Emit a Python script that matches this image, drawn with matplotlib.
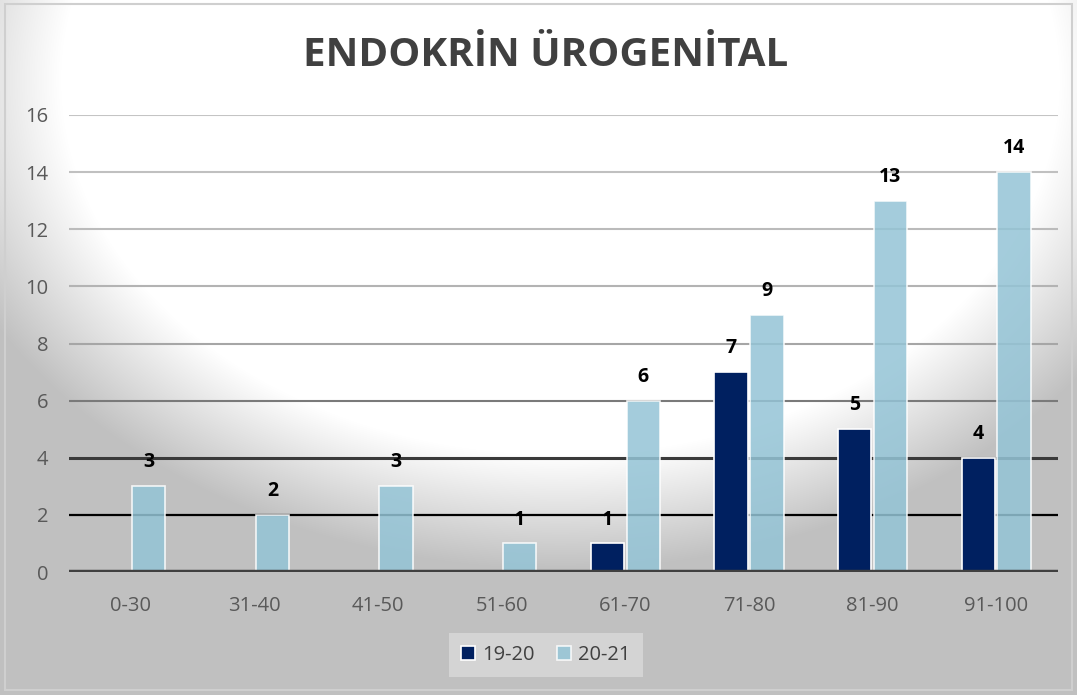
import numpy as np
import matplotlib
matplotlib.use("Agg")
import matplotlib.pyplot as plt
from matplotlib.patches import Rectangle

categories = ["0-30", "31-40", "41-50", "51-60", "61-70", "71-80", "81-90", "91-100"]
series_names = ["19-20", "20-21"]
values_1920 = [0, 0, 0, 0, 1, 7, 5, 4]
values_2021 = [3, 2, 3, 1, 6, 9, 13, 14]
yticks = [0, 2, 4, 6, 8, 10, 12, 14, 16]
title = "ENDOKRİN ÜROGENİTAL"

plt.rcParams['font.family'] = ['Open Sans', 'DejaVu Sans']

W, H = 1077, 695
fig = plt.figure(figsize=(W / 100, H / 100), dpi=100)

# background radial gradient
bg = fig.add_axes([0, 0, 1, 1], zorder=-10)
yy, xx = np.mgrid[0:H, 0:W]
r = np.sqrt(((xx - 560) / 640.0) ** 2 + ((yy - 80) / 480.0) ** 2)
t = np.clip((r - 0.78) / (1.02 - 0.78), 0, 1)
g = 1.0 - t * (1.0 - 0.753)
img = np.dstack([g, g, g])
bg.imshow(img, extent=[0, W, H, 0], aspect='auto', interpolation='bilinear')
bg.set_xlim(0, W)
bg.set_ylim(H, 0)
bg.axis('off')
bg.add_patch(Rectangle((5, 4), W - 10, H - 9, fill=False, edgecolor='#cfcfcf', lw=1.5))

ax = fig.add_axes([69 / W, (H - 572) / H, (1058 - 69) / W, (572 - 115) / H])
ax.patch.set_alpha(0)
x = np.arange(len(categories))
w = 0.27
off = 0.145

grid_colors = {0: '#404040', 2: '#000000', 4: '#3a3a3a', 6: '#7a7a7a',
               8: '#a6a6a6', 10: '#b3b3b3', 12: '#bbbbbb', 14: '#c0c0c0', 16: '#c4c4c4'}
grid_lw = {0: 3.0, 2: 1.6, 4: 2.2, 6: 1.5}
for yv in yticks:
    if yv == 0:
        continue
    ax.axhline(yv, color=grid_colors[yv], lw=grid_lw.get(yv, 1.5), zorder=1)

b1 = ax.bar(x - off, values_1920, w, color='#002060', edgecolor='white', lw=1.2,
            label=series_names[0], zorder=2)
b2 = ax.bar(x + off, values_2021, w, color=(0.58, 0.77, 0.84), alpha=0.85,
            edgecolor='white', lw=1.2, label=series_names[1], zorder=2)
ax.axhline(0, color='#404040', lw=3.2, zorder=3)

for bars, vals in ((b1, values_1920), (b2, values_2021)):
    for bar, v in zip(bars, vals):
        if v == 0:
            continue
        ax.annotate(str(v), (bar.get_x() + bar.get_width() / 2, v),
                    xytext=(0, 10), textcoords='offset points', ha='center',
                    va='bottom', fontsize=14, fontweight='bold', color='black',
                    zorder=5)

ax.set_xlim(-0.5, len(categories) - 0.5)
ax.set_ylim(0, 16)
ax.set_yticks(yticks)
ax.set_xticks(x)
ax.set_xticklabels(categories)
ax.tick_params(axis='both', length=0, labelsize=14.5, labelcolor='#595959')
ax.tick_params(axis='y', pad=15)
ax.tick_params(axis='x', pad=17)
for s in ax.spines.values():
    s.set_visible(False)

fig.text(0.507, (H - 56) / H, title, ha='center', va='center', fontsize=29,
         fontweight='bold', color='#404040')

leg = fig.legend(handles=[b1, b2], labels=series_names, loc='center',
                 bbox_to_anchor=(546 / W, (H - 655) / H), ncol=2, frameon=True,
                 fontsize=14.5, handlelength=0.7, handleheight=0.7, handletextpad=0.35,
                 columnspacing=1.1, borderpad=0.6)
leg.get_frame().set_facecolor('#d4d4d4')
leg.get_frame().set_edgecolor('none')
leg.get_frame().set_alpha(1)
leg.get_frame().set_boxstyle('square', pad=0)
for t_ in leg.get_texts():
    t_.set_color('#404040')

fig.savefig('out.png', dpi=100)
